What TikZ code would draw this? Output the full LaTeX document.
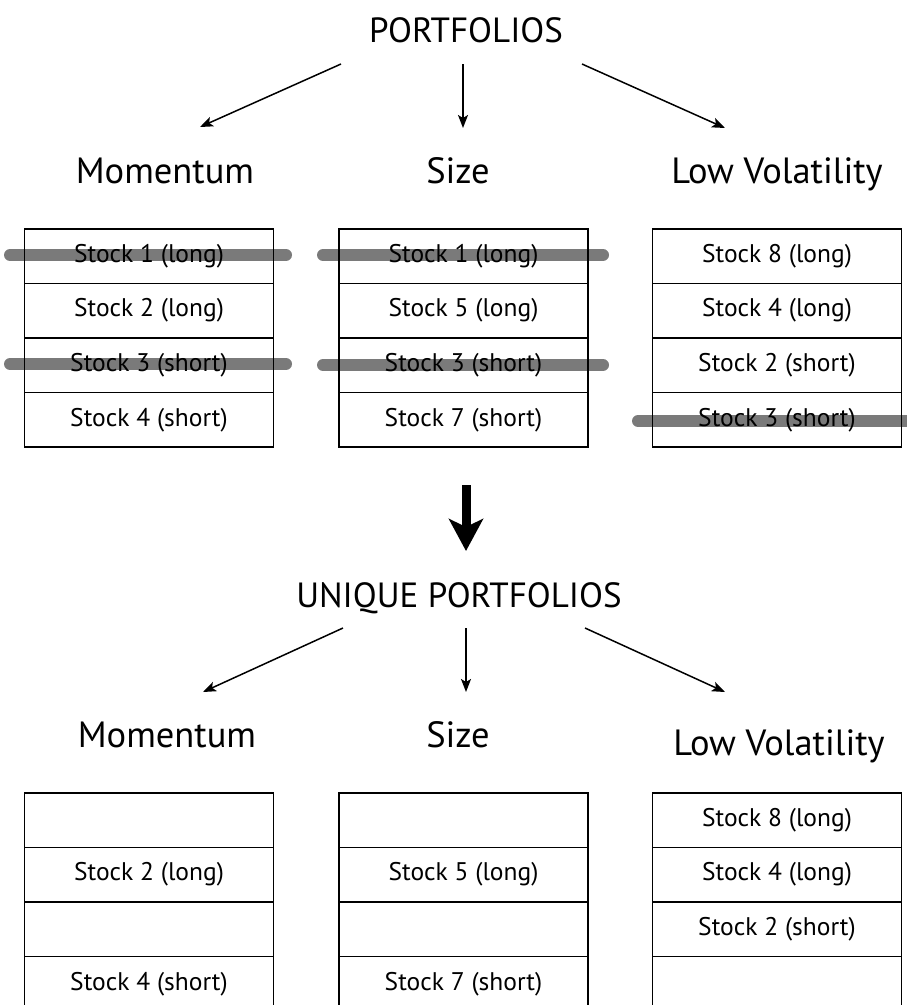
\documentclass[tikz,border=0pt]{standalone}
\usepackage{fontspec}
\setmainfont{PT Sans}
\usetikzlibrary{arrows.meta}
\definecolor{strikegray}{RGB}{122,122,122}
\tikzset{
  title/.style={anchor=base, inner sep=0pt, font=\fontsize{35}{40}\selectfont},
  heading/.style={anchor=base, inner sep=0pt, font=\fontsize{36.5}{42}\selectfont},
  cell/.style={draw=black, line width=1.6pt, minimum width=249pt, minimum height=54.6pt,
    inner sep=0pt, anchor=north, font=\fontsize{25.5}{30}\selectfont},
  thin arrow/.style={line width=1.5pt, -{Stealth[length=13pt,width=10pt,inset=3pt]}},
  big arrow/.style={line width=9pt, -{Stealth[length=32pt,width=34pt,inset=8pt]}},
  strike/.style={draw=strikegray, line width=12pt, line cap=round},
}
\begin{document}
\begin{tikzpicture}[x=1pt, y=-1pt]
\useasboundingbox (0,0) rectangle (907,1005);
\clip (0,0) rectangle (907,1005);

% ---------- upper tree ----------
\node[title] (top) at (466,42) {PORTFOLIOS};
\node[heading] (hm) at (165,183) {Momentum};
\node[heading] (hs) at (458,183) {Size};
\node[heading] (hv) at (777,183) {Low Volatility};

\coordinate (tl0) at (341,64);  \coordinate (tl1) at (200,127);
\coordinate (tm0) at (463,64);  \coordinate (tm1) at (463,128);
\coordinate (tr0) at (582,64);  \coordinate (tr1) at (725,128);
\draw[thin arrow] (tl0) -- (tl1);
\draw[thin arrow] (tm0) -- (tm1);
\draw[thin arrow] (tr0) -- (tr1);

% struck-out entries sit behind the cells
\coordinate (sa0) at (10,255);  \coordinate (sa1) at (286,255);
\coordinate (sb0) at (10,364);  \coordinate (sb1) at (286,364);
\coordinate (sc0) at (323,255); \coordinate (sc1) at (603,255);
\coordinate (sd0) at (323,365); \coordinate (sd1) at (603,365);
\coordinate (se0) at (638,421); \coordinate (se1) at (925,421);
\draw[strike] (sa0) -- (sa1);
\draw[strike] (sb0) -- (sb1);
\draw[strike] (sc0) -- (sc1);
\draw[strike] (sd0) -- (sd1);
\draw[strike] (se0) -- (se1);

% upper cells
\node[cell] (m1) at (149,228)   {Stock 1 (long)};
\node[cell] (m2) at (149,282.6) {Stock 2 (long)};
\node[cell] (m3) at (149,337.2) {Stock 3 (short)};
\node[cell] (m4) at (149,391.8) {Stock 4 (short)};

\node[cell] (s1) at (463.5,228)   {Stock 1 (long)};
\node[cell] (s2) at (463.5,282.6) {Stock 5 (long)};
\node[cell] (s3) at (463.5,337.2) {Stock 3 (short)};
\node[cell] (s4) at (463.5,391.8) {Stock 7 (short)};

\node[cell] (v1) at (777,228)   {Stock 8 (long)};
\node[cell] (v2) at (777,282.6) {Stock 4 (long)};
\node[cell] (v3) at (777,337.2) {Stock 2 (short)};
\node[cell] (v4) at (777,391.8) {Stock 3 (short)};

% ---------- transition ----------
\coordinate (d0) at (466,485);
\coordinate (d1) at (466,551);
\draw[big arrow] (d0) -- (d1);

% ---------- lower tree ----------
\node[title] (utop) at (459,607) {UNIQUE PORTFOLIOS};
\node[heading] (um) at (167,747) {Momentum};
\node[heading] (us) at (458,747) {Size};
\node[heading] (uv) at (779,755) {Low Volatility};

\coordinate (bl0) at (343,628); \coordinate (bl1) at (203,692);
\coordinate (bm0) at (466,628); \coordinate (bm1) at (466,692);
\coordinate (br0) at (585,628); \coordinate (br1) at (725,692);
\draw[thin arrow] (bl0) -- (bl1);
\draw[thin arrow] (bm0) -- (bm1);
\draw[thin arrow] (br0) -- (br1);

\node[cell] (um1) at (149,792)   {};
\node[cell] (um2) at (149,846.6) {Stock 2 (long)};
\node[cell] (um3) at (149,901.2) {};
\node[cell] (um4) at (149,955.8) {Stock 4 (short)};

\node[cell] (us1) at (463.5,792)   {};
\node[cell] (us2) at (463.5,846.6) {Stock 5 (long)};
\node[cell] (us3) at (463.5,901.2) {};
\node[cell] (us4) at (463.5,955.8) {Stock 7 (short)};

\node[cell] (uv1) at (777,792)   {Stock 8 (long)};
\node[cell] (uv2) at (777,846.6) {Stock 4 (long)};
\node[cell] (uv3) at (777,901.2) {Stock 2 (short)};
\node[cell] (uv4) at (777,955.8) {};
\end{tikzpicture}
\end{document}
